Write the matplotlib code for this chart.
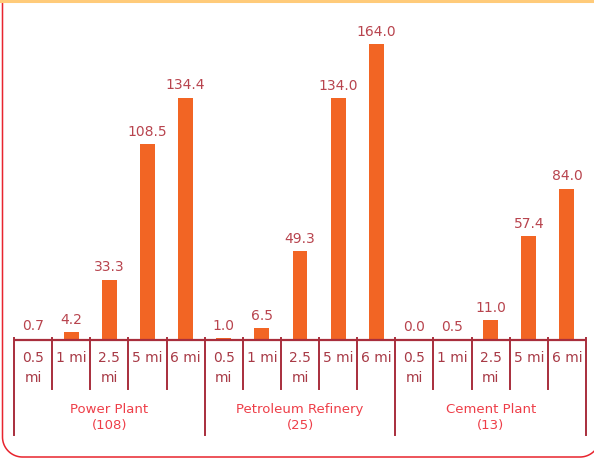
import matplotlib
matplotlib.use("Agg")
import numpy as np
import matplotlib.pyplot as plt
from matplotlib.transforms import blended_transform_factory, Affine2D

# Data
groups = ["Power Plant\n(108)", "Petroleum Refinery\n(25)", "Cement Plant\n(13)"]
distances = ["0.5\nmi", "1 mi", "2.5\nmi", "5 mi", "6 mi"]
power_plant = [0.7, 4.2, 33.3, 108.5, 134.4]
refinery = [1.0, 6.5, 49.3, 134.0, 164.0]
cement = [0.0, 0.5, 11.0, 57.4, 84.0]

series = [power_plant, refinery, cement]
values = [v for s in series for v in s]

W, H = 594, 458
DPI = 100
BAR_COLOR = "#F26524"
VALUE_COLOR = "#B8444E"
TICK_COLOR = "#A83A46"
GROUP_COLOR = "#EE3E48"
AXIS_COLOR = "#A82E3C"
FRAME_COLOR = "#E8242E"

fig = plt.figure(figsize=(W / DPI, H / DPI), dpi=DPI)
fig.patch.set_facecolor("white")


def fy(ypix):
    return (H - ypix) / H


def fx(xpix):
    return xpix / W


ax = fig.add_axes([fx(14), fy(340), fx(586) - fx(14), fy(10) - fy(340)])
ax.set_xlim(-0.5, len(values) - 0.5)
ax.set_ylim(0, 183)
ax.axis("off")

xs = list(range(len(values)))
ax.bar(xs, values, width=0.39, color=BAR_COLOR, zorder=2)
for x, v in zip(xs, values):
    ax.annotate(f"{v:.1f}", (x, v), xytext=(0, 4), textcoords="offset points",
                ha="center", va="bottom", fontsize=10, color=VALUE_COLOR)

# Category axis drawn below the plot
tr = blended_transform_factory(ax.transData, fig.transFigure)
ax.plot([-0.5, len(values) - 0.5], [fy(340), fy(340)], transform=tr,
        color=AXIS_COLOR, lw=1.6, clip_on=False, solid_capstyle="butt")
n = len(distances)
for k in range(len(values) + 1):
    xb = k - 0.5
    bottom = 435 if k % n == 0 else 389
    ax.plot([xb, xb], [fy(338), fy(bottom)], transform=tr,
            color=AXIS_COLOR, lw=1.4, clip_on=False)

for i in range(len(values)):
    ax.text(i, fy(351), distances[i % n], transform=tr, ha="center", va="top",
            fontsize=10, color=TICK_COLOR, linespacing=1.55)

for g, name in enumerate(groups):
    ax.text(g * n + (n - 1) / 2, fy(403), name, transform=tr, ha="center",
            va="top", fontsize=9.5, color=GROUP_COLOR, linespacing=1.3)

# Decorative frame: straight left edge, rounded bottom corners
px = Affine2D().scale(1 / W, -1 / H).translate(0, 1) + fig.transFigure
r = 20
left, right, bottom = 2.5, 600, 457
t1 = np.linspace(np.pi, np.pi / 2, 30)
t2 = np.linspace(np.pi / 2, 0, 30)
fx_pts = np.concatenate([[left], left + r + r * np.cos(t1),
                         right - r + r * np.cos(t2), [right]])
fy_pts = np.concatenate([[-5], bottom - r + r * np.sin(t1),
                         bottom - r + r * np.sin(t2), [-5]])
fig.add_artist(plt.Line2D(fx_pts, fy_pts, transform=px, color=FRAME_COLOR, lw=1.1))
fig.add_artist(plt.Line2D([0, W], [1.2, 1.2], transform=px,
                          color="#FFCB7A", lw=2.2))

fig.savefig("out.png", dpi=DPI)
